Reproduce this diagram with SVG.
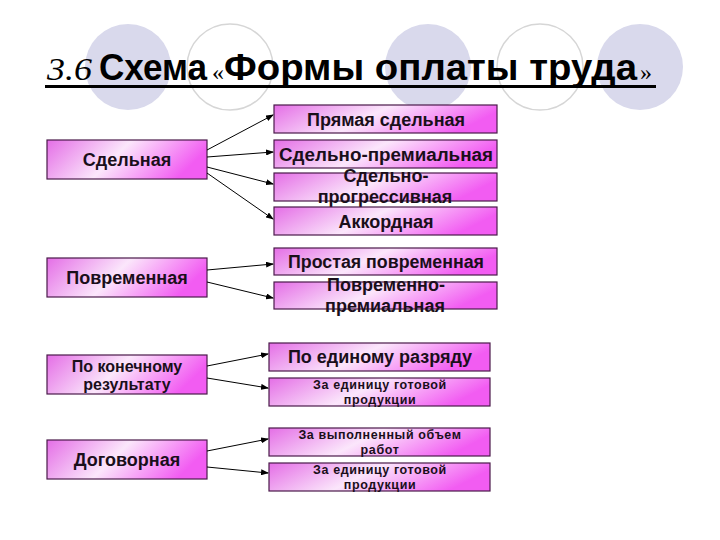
<svg xmlns="http://www.w3.org/2000/svg" width="720" height="540" viewBox="0 0 720 540">
<defs>
<linearGradient id="g" x1="0" y1="0" x2="1" y2="0.25">
<stop offset="0" stop-color="#e46ee6"/>
<stop offset="0.5" stop-color="#fbe6fb"/>
<stop offset="1" stop-color="#f25cf2"/>
</linearGradient>
<marker id="ah" markerWidth="8" markerHeight="6" refX="7" refY="3" orient="auto" markerUnits="userSpaceOnUse">
<path d="M0,0 L8,3 L0,6 z" fill="#000"/>
</marker>
<style>
.box{fill:url(#g);stroke:#4a1a4a;stroke-width:1.2}
.t{font-family:"Liberation Sans",Arial,sans-serif;font-weight:bold;fill:#1a0f1a;text-anchor:middle}
.s{font-size:18px}
.m{font-size:16px}
.x{font-size:12.5px;letter-spacing:0.6px}
.c{fill:#d9d9ec}
.o{fill:none;stroke:#d6d6d6;stroke-width:1.5}
.cn line{stroke:#000;stroke-width:1;marker-end:url(#ah)}
.tt{font-family:"Liberation Sans",Arial,sans-serif;font-weight:bold;font-size:37px;fill:#000}
</style>
</defs>
<rect width="720" height="540" fill="#fff"/>
<g id="bg">
<ellipse class="c" cx="128" cy="67" rx="43" ry="43"/>
<ellipse class="o" cx="230" cy="67" rx="43" ry="43"/>
<ellipse class="c" cx="428" cy="67" rx="43" ry="43"/>
<ellipse class="o" cx="540" cy="67" rx="43" ry="43"/>
<ellipse class="c" cx="640" cy="67" rx="43" ry="43"/>
</g>
<g id="title">
<text x="47" y="80" font-family="Liberation Serif,serif" font-style="italic" font-size="31" fill="#000" textLength="45" lengthAdjust="spacingAndGlyphs">3.6</text>
<text class="tt" x="99" y="80" textLength="108" lengthAdjust="spacingAndGlyphs">Схема</text>
<text x="212" y="80" font-family="Liberation Serif,serif" font-size="24" fill="#000">«</text>
<text class="tt" x="224" y="80" textLength="413" lengthAdjust="spacingAndGlyphs">Формы оплаты труда</text>
<text x="640" y="80" font-family="Liberation Serif,serif" font-size="24" fill="#000">»</text>
<rect x="45" y="85" width="611" height="3" fill="#000"/>
</g>
<g id="n-sdel"><rect class="box" x="47" y="140" width="160" height="39"/><text class="t s" x="127" y="166">Сдельная</text></g>
<g id="n-pryam"><rect class="box" x="274" y="105" width="223" height="28"/><text class="t s" x="386" y="126">Прямая сдельная</text></g>
<g id="n-sdprem"><rect class="box" x="274" y="140" width="223" height="28"/><text class="t s" x="386" y="161" textLength="214" lengthAdjust="spacingAndGlyphs">Сдельно-премиальная</text></g>
<g id="n-sdprog"><rect class="box" x="274" y="173" width="223" height="28"/><text class="t s" x="386" y="182">Сдельно-</text><text class="t s" x="385" y="203">прогрессивная</text></g>
<g id="n-akk"><rect class="box" x="274" y="207" width="223" height="28"/><text class="t s" x="386" y="228">Аккордная</text></g>
<g id="n-povr"><rect class="box" x="47" y="258" width="160" height="39"/><text class="t s" x="127" y="284">Повременная</text></g>
<g id="n-prost"><rect class="box" x="274" y="248" width="223" height="27"/><text class="t s" x="386" y="268" textLength="196" lengthAdjust="spacingAndGlyphs">Простая повременная</text></g>
<g id="n-povprem"><rect class="box" x="274" y="282" width="223" height="27"/><text class="t s" x="386" y="291">Повременно-</text><text class="t s" x="385" y="312">премиальная</text></g>
<g id="n-konech"><rect class="box" x="47" y="355" width="160" height="39"/><text class="t m" x="127" y="372">По конечному</text><text class="t m" x="127" y="390">результату</text></g>
<g id="n-edin"><rect class="box" x="269" y="343" width="221" height="28"/><text class="t s" x="380" y="363">По единому разряду</text></g>
<g id="n-zaed1"><rect class="box" x="269" y="378" width="221" height="28"/><text class="t x" x="380" y="389">За единицу готовой</text><text class="t x" x="380" y="404">продукции</text></g>
<g id="n-dogov"><rect class="box" x="47" y="440" width="160" height="39"/><text class="t s" x="127" y="466">Договорная</text></g>
<g id="n-vypoln"><rect class="box" x="269" y="428" width="221" height="28"/><text class="t x" x="380" y="439">За выполненный объем</text><text class="t x" x="380" y="454">работ</text></g>
<g id="n-zaed2"><rect class="box" x="269" y="463" width="221" height="28"/><text class="t x" x="380" y="474">За единицу готовой</text><text class="t x" x="380" y="489">продукции</text></g>
<g id="connectors" class="cn">
<line x1="207" y1="150" x2="273" y2="115"/>
<line x1="207" y1="157" x2="273" y2="152"/>
<line x1="207" y1="167" x2="273" y2="184"/>
<line x1="207" y1="173" x2="273" y2="219"/>
<line x1="207" y1="270" x2="273" y2="264"/>
<line x1="207" y1="282" x2="273" y2="298"/>
<line x1="207" y1="366" x2="268" y2="354"/>
<line x1="207" y1="378" x2="268" y2="388"/>
<line x1="207" y1="451" x2="268" y2="439"/>
<line x1="207" y1="467" x2="268" y2="473"/>
</g>
</svg>
